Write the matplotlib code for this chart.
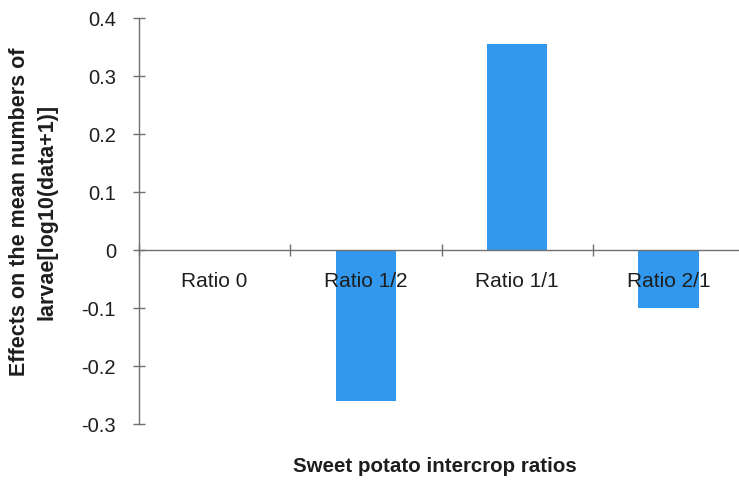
import matplotlib
matplotlib.use("Agg")
import matplotlib.pyplot as plt
import numpy as np

categories = ["Ratio 0", "Ratio 1/2", "Ratio 1/1", "Ratio 2/1"]
effects = [0.0, -0.26, 0.355, -0.10]
yticks = [-0.3, -0.2, -0.1, 0, 0.1, 0.2, 0.3, 0.4]
ytick_labels = ["-0.3", "-0.2", "-0.1", "0", "0.1", "0.2", "0.3", "0.4"]

plt.rcParams["font.family"] = ["Liberation Sans", "DejaVu Sans"]

W, H = 739, 484
fig = plt.figure(figsize=(W / 100, H / 100), dpi=100)
left, right, top, bottom = 139, 744, 18, 424
ax = fig.add_axes([left / W, 1 - bottom / H, (right - left) / W, (bottom - top) / H])

x = np.arange(len(categories))
ax.bar(x, effects, width=0.40, color="#3198ee", zorder=2)
ax.set_axisbelow(False)

ax.set_xlim(-0.5, len(categories) - 0.5)
ax.set_ylim(-0.3, 0.4)

for s in ["top", "right"]:
    ax.spines[s].set_visible(False)
axis_col = "#707070"
text_col = "#1e1e1e"
ax.spines["left"].set_color(axis_col)
ax.spines["bottom"].set_color(axis_col)
ax.spines["left"].set_linewidth(1.0)
ax.spines["bottom"].set_linewidth(1.0)
ax.spines["bottom"].set_position(("data", 0))
ax.spines["bottom"].set_zorder(3)

ax.set_yticks(yticks)
ax.set_yticklabels(ytick_labels, fontsize=14.5, color=text_col)
ax.tick_params(axis="y", direction="inout", length=9, width=1.0, color=axis_col, pad=12)

# category boundaries carry the tick marks, centres carry the labels
ax.set_xticks(np.arange(len(categories) + 1) - 0.5)
ax.set_xticklabels([])
ax.set_xticks(x, minor=True)
ax.set_xticklabels(categories, minor=True, fontsize=15, color=text_col)
ax.tick_params(axis="x", which="major", direction="inout", length=9, width=1.0, color=axis_col)
ax.tick_params(axis="x", which="minor", length=0, pad=16)

fig.text(33 / W, 1 - 212 / H, "Effects on the mean numbers of\nlarvae[log10(data+1)]",
         rotation=90, ha="center", va="center", multialignment="center",
         fontsize=15.5, fontweight="bold", color=text_col, linespacing=1.4)
fig.text(435 / W, 1 - 466 / H, "Sweet potato intercrop ratios",
         ha="center", va="center", fontsize=14.8, fontweight="bold", color=text_col)

fig.savefig("out.png", dpi=100)
